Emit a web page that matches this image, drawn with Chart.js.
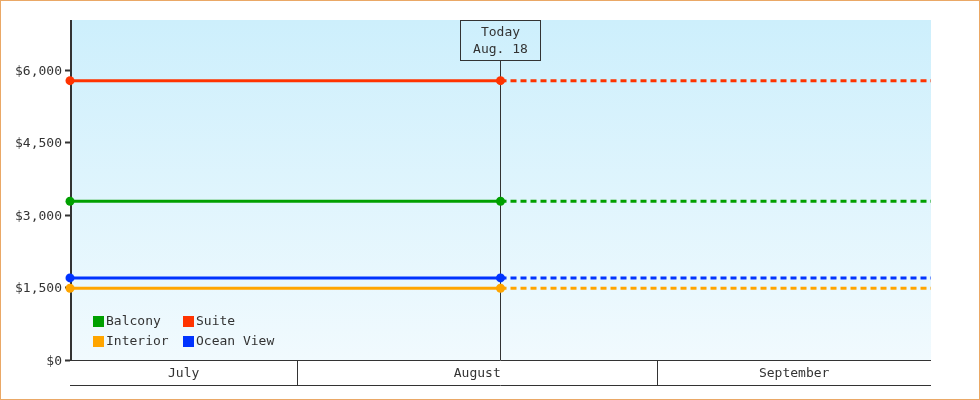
<!DOCTYPE html>
<html>
<head>
<meta charset="utf-8">
<script src="https://cdn.jsdelivr.net/npm/chart.js@4/dist/chart.umd.min.js"></script>
<style>
  html, body { margin: 0; padding: 0; background: #fff; }
  #c { display: block; }
</style>
</head>
<body>
<canvas id="c" width="980" height="400"></canvas>
<script>
// ---- Data (days counted from July 1 = 0) ----
const months = ['July', 'August', 'September'];
const monthStarts = [0, 31, 62, 92];
const rangeStart = 11.43;
const today = 48.5;
const rangeEnd = 85.57;
const todayLabel = ['Today', 'Aug. 18'];

const seriesNames = ['Balcony', 'Suite', 'Interior', 'Ocean View'];
const seriesColors = ['#00a000', '#ff3300', '#ffa500', '#0033ff'];
const balcony = [3285, 3285, 3285];
const suite = [5780, 5780, 5780];
const interior = [1485, 1485, 1485];
const oceanView = [1698, 1698, 1698];
const pointDays = [rangeStart, today, rangeEnd];

const yTicks = [0, 1500, 3000, 4500, 6000];
const yMax = 7035;

const FONT = '"DejaVu Sans Mono", monospace';
const INK = '#333333';

const seriesValues = [balcony, suite, interior, oceanView];

const datasets = seriesValues.map((vals, i) => ({
  label: seriesNames[i],
  data: vals.map((v, j) => ({ x: pointDays[j], y: v })),
  borderColor: seriesColors[i],
  backgroundColor: seriesColors[i],
  pointBackgroundColor: seriesColors[i],
  pointBorderWidth: 0,
  pointRadius: [4.5, 4.5, 0],
  pointHoverRadius: [4.5, 4.5, 0],
  borderWidth: 3,
  borderCapStyle: 'butt',
  tension: 0,
  clip: false,
  segment: {
    borderDash: ctx => ctx.p0.parsed.x >= today ? [6, 4] : []
  }
}));

const bgPlugin = {
  id: 'bg',
  beforeDraw(chart) {
    const { ctx, chartArea: a } = chart;
    ctx.save();
    const g = ctx.createLinearGradient(0, a.top, 0, a.bottom);
    g.addColorStop(0, '#cdeffc');
    g.addColorStop(1, '#f1fafe');
    ctx.fillStyle = g;
    ctx.fillRect(a.left, a.top, a.right - a.left, a.bottom - a.top);
    ctx.restore();
  },
  beforeDatasetsDraw(chart) {
    const { ctx, chartArea: a, scales } = chart;
    ctx.save();
    // y axis line (2px)
    ctx.fillStyle = INK;
    ctx.fillRect(a.left, a.top, 2, a.bottom - a.top + 1);
    // today marker
    const x = Math.floor(scales.x.getPixelForValue(today)) + 0.5;
    ctx.strokeStyle = INK;
    ctx.lineWidth = 1;
    const boxW = 80, boxH = 40;
    const bx = x - boxW / 2;
    const by = a.top + 0.5;
    ctx.beginPath();
    ctx.moveTo(x, by + boxH);
    ctx.lineTo(x, a.bottom);
    ctx.stroke();
    ctx.strokeRect(bx, by, boxW, boxH);
    ctx.fillStyle = INK;
    ctx.font = '13px ' + FONT;
    ctx.textAlign = 'center';
    ctx.textBaseline = 'middle';
    ctx.fillText(todayLabel[0], x, a.top + 13);
    ctx.fillText(todayLabel[1], x, a.top + 30);
    ctx.restore();
  },
  afterDraw(chart) {
    const { ctx, chartArea: a, scales } = chart;
    const xs = scales.x;
    ctx.save();
    // month band
    ctx.strokeStyle = INK;
    ctx.lineWidth = 1;
    const y0 = a.bottom + 0.5, y1 = a.bottom + 25.5;
    ctx.beginPath();
    ctx.moveTo(a.left, y0); ctx.lineTo(a.right, y0);
    ctx.moveTo(a.left, y1); ctx.lineTo(a.right, y1);
    ctx.stroke();
    ctx.fillStyle = INK;
    ctx.font = '13px ' + FONT;
    ctx.textAlign = 'center';
    ctx.textBaseline = 'middle';
    months.forEach((m, i) => {
      const s = Math.max(monthStarts[i], rangeStart);
      const e = Math.min(monthStarts[i + 1], rangeEnd);
      const ps = xs.getPixelForValue(s), pe = xs.getPixelForValue(e);
      if (monthStarts[i] > rangeStart) {
        const px = Math.floor(ps) + 0.5;
        ctx.beginPath();
        ctx.moveTo(px, y0); ctx.lineTo(px, y1);
        ctx.stroke();
      }
      ctx.fillText(m, (ps + pe) / 2, a.bottom + 14);
    });
    // legend
    const lx = [a.left + 23, a.left + 113];
    const ly = [a.bottom - 39, a.bottom - 19];
    chart.data.datasets.forEach((ds, i) => {
      const col = i % 2, row = Math.floor(i / 2);
      ctx.fillStyle = ds.borderColor;
      ctx.fillRect(lx[col], ly[row] - 5, 11, 11);
      ctx.fillStyle = INK;
      ctx.textAlign = 'left';
      ctx.fillText(ds.label, lx[col] + 13, ly[row] + 1);
    });
    // outer border
    ctx.strokeStyle = '#eaa866';
    ctx.lineWidth = 1;
    ctx.strokeRect(0.5, 0.5, chart.width - 1, chart.height - 1);
    ctx.restore();
  }
};

new Chart(document.getElementById('c'), {
  type: 'line',
  data: { datasets },
  options: {
    responsive: false,
    animation: false,
    devicePixelRatio: 1,
    layout: { padding: { top: 20, right: 49, bottom: 40, left: 0 } },
    plugins: { legend: { display: false }, tooltip: { enabled: false } },
    events: [],
    scales: {
      x: {
        type: 'linear',
        display: false,
        min: rangeStart,
        max: rangeEnd
      },
      y: {
        type: 'linear',
        min: 0,
        max: yMax,
        afterFit(scale) { scale.width = 70; },
        afterBuildTicks(scale) { scale.ticks = yTicks.map(v => ({ value: v })); },
        border: { display: false },
        grid: {
          drawOnChartArea: false,
          drawTicks: true,
          tickLength: 5,
          tickWidth: 2,
          tickColor: INK
        },
        ticks: {
          color: INK,
          padding: 3,
          labelOffset: 1.5,
          font: { family: FONT, size: 13 },
          callback: v => '$' + Number(v).toLocaleString('en-US')
        }
      }
    }
  },
  plugins: [bgPlugin]
});
</script>
</body>
</html>
